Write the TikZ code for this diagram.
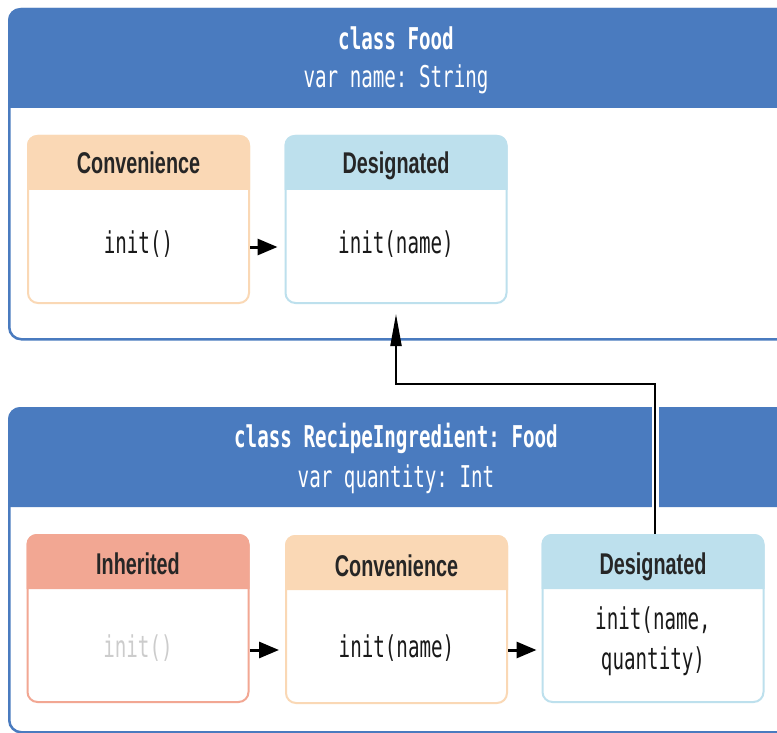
\documentclass[tikz,border=0pt]{standalone}
\usepackage{fontspec}
\setmonofont{DejaVu Sans Mono}[FakeStretch=0.64]
\newfontfamily\lblfont{Liberation Sans}[FakeStretch=0.66]
\usetikzlibrary{arrows.meta,calc}
\definecolor{hdrblue}{HTML}{4A7BBF}
\definecolor{convH}{HTML}{FAD8B5}
\definecolor{desH}{HTML}{BDE0ED}
\definecolor{inhH}{HTML}{F2A793}
\definecolor{grayTxt}{HTML}{CCCCCC}
\tikzset{
  outerbox/.style={draw=hdrblue, line width=2.5pt, rounded corners=12pt, fill=white, anchor=north west, inner sep=0pt},
  innerbox/.style={line width=2pt, rounded corners=10pt, fill=white, minimum width=221pt, minimum height=167pt, inner sep=0pt},
  hdrtxt/.style={text=white, font=\fontsize{30}{40}\selectfont\ttfamily\bfseries, anchor=base, inner sep=0pt},
  hdrsub/.style={text=white, font=\fontsize{30}{40}\selectfont\ttfamily, anchor=base, inner sep=0pt},
  lbl/.style={font=\fontsize{30}{34}\selectfont\lblfont\bfseries, text=black!85, anchor=base, inner sep=0pt},
  code/.style={font=\fontsize{30}{40}\selectfont\ttfamily, text=black!90, anchor=base, inner sep=0pt, align=center},
  hconn/.style={line width=3pt, -{Triangle[length=20pt,width=16pt]}},
  vconn/.style={line width=2pt, -{Triangle[length=32pt,width=11pt]}}
}
\begin{document}
\begin{tikzpicture}[x=1pt,y=-1pt]
\clip (0,0) rectangle (777,733);
\fill[white] (0,0) rectangle (777,733);
% ---------- class Food ----------
\node[outerbox, minimum width=820pt, minimum height=330pt] (food) at (8,8) {};
\fill[hdrblue] ($(food.north west)+(0,100)$) {[rounded corners=12pt] -- (food.north west) -- (food.north east)} -- ($(food.north east)+(0,100)$) -- cycle;
\node[hdrtxt] (foodT) at (396,50) {class Food};
\node[hdrsub] (foodV) at (396,88) {var name: String};
% inner boxes
\node[innerbox, draw=convH] (fconv) at (138.5,219.5) {};
\fill[convH] ($(fconv.north west)+(0,55)$) {[rounded corners=10pt] -- (fconv.north west) -- (fconv.north east)} -- ($(fconv.north east)+(0,55)$) -- cycle;
\node[lbl] (fconvL) at (138.5,174) {Convenience};
\node[code] (fconvC) at (138.5,253) {init()};
\node[innerbox, draw=desH] (fdes) at (396,219.5) {};
\fill[desH] ($(fdes.north west)+(0,55)$) {[rounded corners=10pt] -- (fdes.north west) -- (fdes.north east)} -- ($(fdes.north east)+(0,55)$) -- cycle;
\node[lbl] (fdesL) at (396,174) {Designated};
\node[code] (fdesC) at (396,253) {init(name)};
% ---------- class RecipeIngredient ----------
\node[outerbox, minimum width=820pt, minimum height=324pt] (recipe) at (8,407) {};
\fill[hdrblue] ($(recipe.north west)+(0,100)$) {[rounded corners=12pt] -- (recipe.north west) -- (recipe.north east)} -- ($(recipe.north east)+(0,100)$) -- cycle;
\node[hdrtxt] (recT) at (396,447) {class RecipeIngredient: Food};
\node[hdrsub] (recV) at (396,487) {var quantity: Int};
\node[innerbox, draw=inhH] (rinh) at (138,618.5) {};
\fill[inhH] ($(rinh.north west)+(0,55)$) {[rounded corners=10pt] -- (rinh.north west) -- (rinh.north east)} -- ($(rinh.north east)+(0,55)$) -- cycle;
\node[lbl] (rinhL) at (138,574) {Inherited};
\node[code, text=grayTxt] (rinhC) at (138,657) {init()};
\node[innerbox, draw=convH] (rconv) at (396.5,619.5) {};
\fill[convH] ($(rconv.north west)+(0,55)$) {[rounded corners=10pt] -- (rconv.north west) -- (rconv.north east)} -- ($(rconv.north east)+(0,55)$) -- cycle;
\node[lbl] (rconvL) at (396.5,576) {Convenience};
\node[code] (rconvC) at (396.5,657) {init(name)};
\node[innerbox, draw=desH] (rdes) at (653,618.5) {};
\fill[desH] ($(rdes.north west)+(0,55)$) {[rounded corners=10pt] -- (rdes.north west) -- (rdes.north east)} -- ($(rdes.north east)+(0,55)$) -- cycle;
\node[lbl] (rdesL) at (653,574) {Designated};
\node[code] (rdesC1) at (653,629) {init(name,};
\node[code] (rdesC2) at (653,669) {quantity)};
% ---------- connectors ----------
\draw[hconn, shorten >=7pt] ($(fconv.east)+(0,27.5)$) -- ($(fdes.west)+(0,27.5)$);
\draw[hconn, shorten >=6pt] ($(rinh.east)+(0,31.5)$) -- ($(rconv.west)+(0,30.5)$);
\draw[hconn, shorten >=5pt] ($(rconv.east)+(0,30.5)$) -- ($(rdes.west)+(0,31.5)$);
\coordinate (bend) at ($(rdes.north)+(2,-150)$);
\draw[white, line width=7pt] ($(rdes.north)+(2,0)$) -- (bend) -| ($(fdes.south)+(0,42)$);
\draw[vconn, shorten >=10pt] ($(rdes.north)+(2,0)$) -- (bend) -| (fdes.south);
\end{tikzpicture}
\end{document}
